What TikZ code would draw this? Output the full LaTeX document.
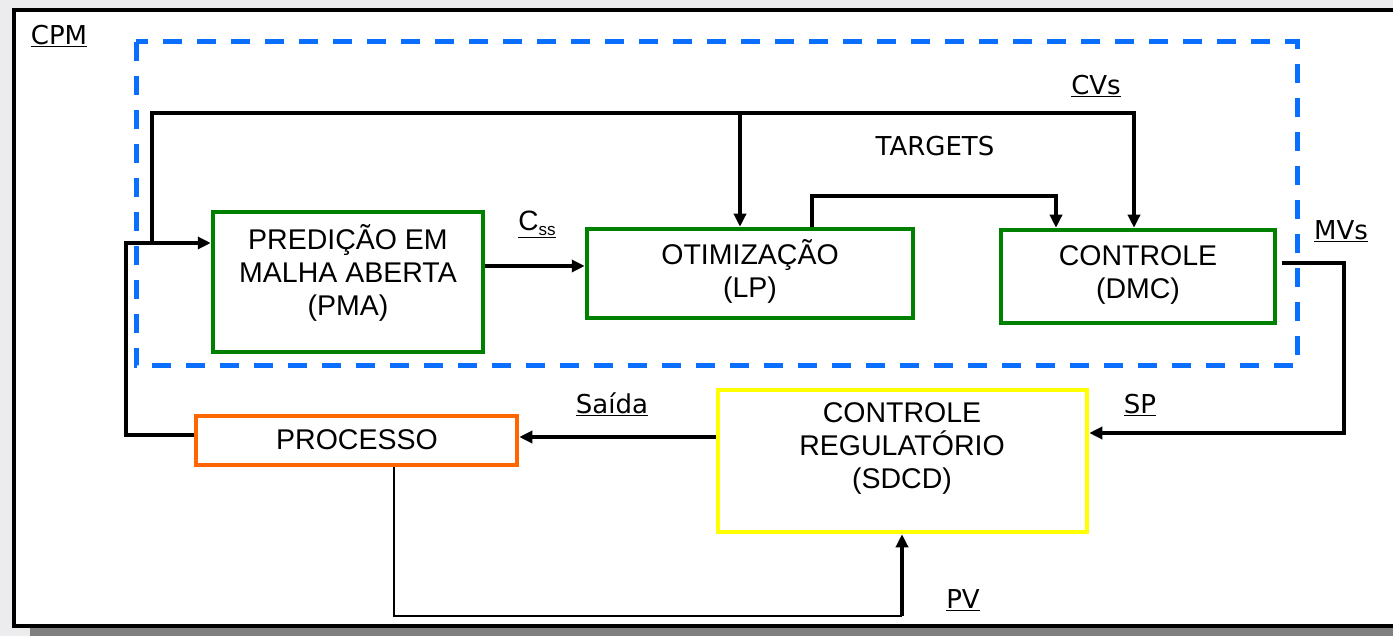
\documentclass[tikz,border=0pt]{standalone}
\usepackage{fontspec}
\setmainfont{Liberation Sans}
\newfontfamily\labfont{DejaVu Sans}
\usetikzlibrary{arrows.meta,calc}
\definecolor{cpmblue}{RGB}{10,110,255}
\definecolor{boxgreen}{RGB}{0,128,0}
\definecolor{boxorange}{RGB}{255,102,0}
\definecolor{boxyellow}{RGB}{255,255,0}
\definecolor{shadowgrey}{RGB}{128,128,128}
\definecolor{bggrey}{RGB}{236,236,238}
\begin{document}
\begin{tikzpicture}[x=1pt,y=-1pt,
  blockbox/.style={draw, line width=4.5pt, inner sep=0pt, fill=white},
  boxtext/.style={align=center, font=\fontsize{28.5}{33}\selectfont, inner sep=0pt},
  labeltext/.style={font=\labfont\fontsize{26}{30}\selectfont, inner sep=0pt},
  conn/.style={line width=4.5pt, line cap=butt, line join=miter},
  thinconn/.style={line width=2pt},
  tip/.style={-{Triangle[length=13pt,width=12pt]}}
]
\useasboundingbox (0,0) rectangle (1393,636);
% background and frame
\fill[bggrey] (0,0) rectangle (1393,636);
\fill[shadowgrey] (30,628) rectangle (1393,636);
\draw[line width=3.5pt, fill=white] (14,10) rectangle (1400,626);
% CPM dashed boundary
\draw[cpmblue, line width=5pt, dash pattern=on 19pt off 15pt] (136,42) rectangle (1297,366);
\node[labeltext] (cpm) at (59,36) {\underline{CPM}};

% blocks
\node[blockbox, draw=boxgreen, minimum width=270pt, minimum height=140pt] (pma) at (348,282) {};
\node[boxtext] (pmatxt) at (348,273) {PREDIÇÃO EM\\MALHA ABERTA\\(PMA)};
\node[blockbox, draw=boxgreen, minimum width=326pt, minimum height=89pt] (lp) at (750,273.5) {};
\node[boxtext] (lptxt) at (750,271) {OTIMIZAÇÃO\\(LP)};
\node[blockbox, draw=boxgreen, minimum width=274pt, minimum height=93pt] (dmc) at (1138,276.5) {};
\node[boxtext] (dmctxt) at (1138,275) {CONTROLE\\(DMC)};
\node[blockbox, draw=boxorange, minimum width=321pt, minimum height=49pt] (proc) at (356.5,440.5) {};
\node[boxtext] (proctxt) at (357,440) {PROCESSO};
\node[blockbox, draw=boxyellow, minimum width=369pt, minimum height=142pt] (sdcd) at (902.5,461) {};
\node[boxtext] (sdcdtxt) at (902,448) {CONTROLE\\REGULATÓRIO\\(SDCD)};

% coordinates
\coordinate (fb) at (126,243);
\coordinate (jn) at (152,243);
\coordinate (cvtop) at (1134,113);
\coordinate (b1) at (740,113);
\coordinate (t1) at (812,196);
\coordinate (t2) at (1056,196);
\coordinate (mv) at (1344,263);
\coordinate (sp) at (1344,433);
\coordinate (pv) at (394,616);
\coordinate (pv2) at (902,616);

% connectors
\draw[conn, tip] ([yshift=5.5pt]proc.west) -| (fb) -- (pma.west |- fb);
\draw[conn, tip] (jn) |- (cvtop) -- (cvtop |- dmc.north);
\draw[conn, tip] (b1) -- (b1 |- lp.north);
\draw[conn, tip] (t1 |- lp.north) -- (t1) -- (t2) -- (t2 |- dmc.north);
\draw[conn, tip] (pma.east |- 0,266) -- (lp.west |- 0,266);
\draw[conn, tip] ([xshift=5pt]dmc.east |- mv) -- (mv) -- (sp) -- (sdcd.east |- sp);
\draw[conn, tip] (sdcd.west |- 0,437) -- (proc.east |- 0,437);
\draw[thinconn] (pv |- proc.south) -- (pv) -- (pv2);
\draw[conn, tip] (pv2) -- (pv2 |- sdcd.south);

% labels
\node[labeltext] (cvs) at (1096,86) {\underline{CVs}};
\node[labeltext] (targets) at (935,146) {TARGETS};
\node[inner sep=0pt, font=\fontsize{28}{33}\selectfont] (css) at (537,224) {\underline{C\raisebox{-0.35ex}{\fontsize{17}{17}\selectfont ss}}};
\node[labeltext] (mvs) at (1341,231) {\underline{MVs}};
\node[labeltext] (spl) at (1140,405) {\underline{SP}};
\node[labeltext] (saida) at (612,404) {\underline{Saída}};
\node[labeltext] (pvl) at (963,600) {\underline{PV}};
\end{tikzpicture}
\end{document}
